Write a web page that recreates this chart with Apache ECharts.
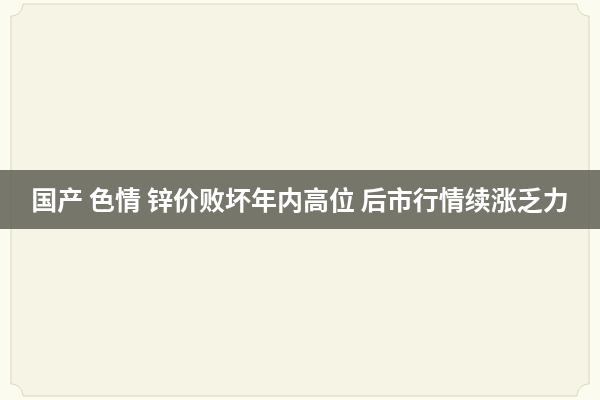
<!DOCTYPE html>
<html>
<head>
<meta charset="utf-8">
<script src="https://cdn.jsdelivr.net/npm/echarts@6/dist/echarts.min.js"></script>
<style>
html,body{margin:0;padding:0;background:#fcfbef;}
#c{width:600px;height:400px;}
</style>
</head>
<body>
<div id="c"></div>
<script>
var titleWords = ['国产', '色情', '锌价败坏年内高位', '后市行情续涨乏力'];
var titleText = titleWords.join(' ');

var chart = echarts.init(document.getElementById('c'), null, {renderer: 'canvas'});

// frame polygon with concave rounded notches at the corners
var L = 11, T = 4, R = 589, B = 396, n = 12;
function notch(cx, cy, a0, a1) {
  var pts = [];
  for (var i = 0; i <= 8; i++) {
    var a = a0 + (a1 - a0) * i / 8;
    pts.push([cx + n * Math.cos(a), cy + n * Math.sin(a)]);
  }
  return pts;
}
var P = Math.PI;
var framePts = []
  .concat(notch(L, T, 0, P / 2))
  .concat(notch(L, B, -P / 2, 0))
  .concat(notch(R, B, P, 3 * P / 2))
  .concat(notch(R, T, P / 2, P));

chart.setOption({
  backgroundColor: '#fcfbef',
  graphic: [
    {
      type: 'polygon',
      shape: {points: framePts},
      style: {fill: '#f6f4e4', stroke: '#d9d7bd', lineWidth: 1}
    },
    {
      type: 'rect',
      shape: {x: 0, y: 170, width: 600, height: 59},
      style: {fill: 'rgba(100,100,90,0.88)'}
    },
    {
      type: 'text',
      x: 300,
      y: 200,
      style: {
        text: titleText,
        fill: '#ffffff',
        fontSize: 26,
        fontWeight: 'bold',
        fontFamily: '"Noto Sans CJK SC", sans-serif',
        align: 'center',
        verticalAlign: 'middle'
      }
    }
  ]
});
</script>
</body>
</html>
